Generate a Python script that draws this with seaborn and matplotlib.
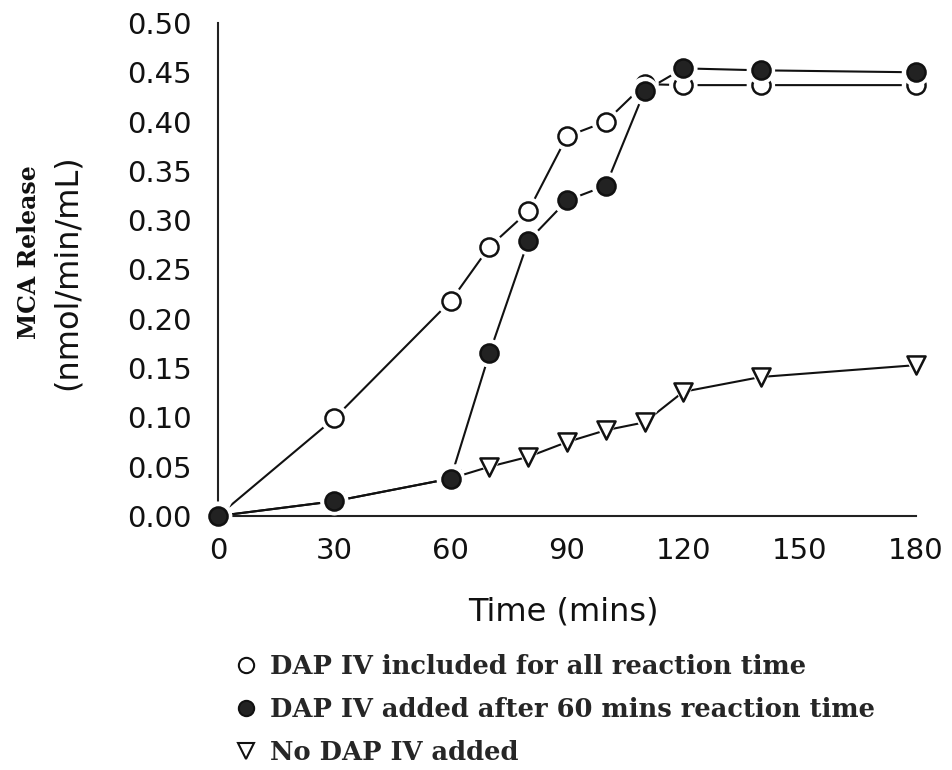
import matplotlib
matplotlib.use("Agg")
import matplotlib.pyplot as plt
import seaborn as sns
import pandas as pd
from matplotlib.lines import Line2D

# ---- data ----
time = [0, 30, 60, 70, 80, 90, 100, 110, 120, 140, 180]
dap_all = [0.0, 0.099, 0.218, 0.273, 0.309, 0.385, 0.400, 0.438, 0.437, 0.437, 0.437]
dap_after60 = [0.0, 0.015, 0.038, 0.165, 0.279, 0.320, 0.335, 0.431, 0.454, 0.452, 0.450]
no_dap = [0.0, 0.015, 0.038, 0.050, 0.060, 0.075, 0.087, 0.095, 0.126, 0.141, 0.153]

series_labels = ["DAP IV included for all reaction time",
                 "DAP IV added after 60 mins reaction time",
                 "No DAP IV added"]
x_ticks = [0, 30, 60, 90, 120, 150, 180]
y_ticks = [0.00, 0.05, 0.10, 0.15, 0.20, 0.25, 0.30, 0.35, 0.40, 0.45, 0.50]

df = pd.DataFrame({
    "time": time * 3,
    "value": dap_all + dap_after60 + no_dap,
    "series": [series_labels[0]] * len(time) + [series_labels[1]] * len(time) + [series_labels[2]] * len(time),
})

sns.set_theme(style="white")
plt.rcParams["font.family"] = ["DejaVu Sans"]

fig = plt.figure(figsize=(9.52, 7.70), dpi=100)
ax = fig.add_axes([218 / 952, 1 - 516 / 770, (916 - 218) / 952, (516 - 23) / 770])

# lines
for lab in series_labels:
    sub = df[df.series == lab]
    sns.lineplot(data=sub, x="time", y="value", ax=ax, color="#111111", lw=1.5,
                 legend=False, estimator=None, sort=False, clip_on=False, zorder=2)

style = {
    series_labels[2]: dict(marker="v", face="white"),
    series_labels[0]: dict(marker="o", face="white"),
    series_labels[1]: dict(marker="o", face="#222222"),
}
z = 3
for lab in [series_labels[2], series_labels[0], series_labels[1]]:
    sub = df[df.series == lab]
    st = style[lab]
    # white halo creates gap between line and marker
    sns.scatterplot(data=sub, x="time", y="value", ax=ax, marker=st["marker"], s=420,
                    color="white", edgecolor="none", linewidth=0, legend=False,
                    clip_on=False, zorder=z)
    sns.scatterplot(data=sub, x="time", y="value", ax=ax, marker=st["marker"], s=170,
                    color=st["face"], edgecolor="#111111", linewidth=1.8, legend=False,
                    clip_on=False, zorder=z + 1)
    z += 2

ax.set_xlim(0, 180)
ax.set_ylim(0, 0.5)
ax.set_xticks(x_ticks)
ax.set_yticks(y_ticks)
ax.set_xticklabels([str(t) for t in x_ticks])
ax.set_yticklabels([f"{v:.2f}" for v in y_ticks])
ax.tick_params(axis="both", direction="in", length=10, width=1.4, color="#222222",
               labelsize=21, labelcolor="#111111")
ax.tick_params(axis="y", pad=19)
ax.tick_params(axis="x", pad=15)
ax.set_xlabel("")
ax.set_ylabel("")
for s in ["top", "right"]:
    ax.spines[s].set_visible(False)
for s in ["left", "bottom"]:
    ax.spines[s].set_linewidth(1.5)
    ax.spines[s].set_color("#222222")

# axis titles
fig.text(563 / 952, 1 - 612 / 770, "Time (mins)", ha="center", va="center",
         fontsize=23, color="#111111")
fig.text(29 / 952, 1 - 252 / 770, "MCA Release", rotation=90, ha="center", va="center",
         fontsize=17, fontweight="bold", family=["DejaVu Serif"], color="#111111")
fig.text(67 / 952, 1 - 272 / 770, "(nmol/min/mL)", rotation=90, ha="center", va="center",
         fontsize=23, color="#111111")

# legend
handles = [
    Line2D([], [], linestyle="none", marker="o", markersize=11, markerfacecolor="white",
           markeredgecolor="#111111", markeredgewidth=1.5),
    Line2D([], [], linestyle="none", marker="o", markersize=11, markerfacecolor="#222222",
           markeredgecolor="#111111", markeredgewidth=1.5),
    Line2D([], [], linestyle="none", marker="v", markersize=11, markerfacecolor="white",
           markeredgecolor="#111111", markeredgewidth=1.5),
]
leg = fig.legend(handles, series_labels, loc="upper left",
                 bbox_to_anchor=(224 / 952, 1 - 641 / 770), frameon=False,
                 prop={"family": "DejaVu Serif", "weight": "bold", "size": 18.5},
                 handlelength=0.7, handletextpad=0.6, labelspacing=0.7, borderpad=0)

fig.savefig("out.png", dpi=100, facecolor="white")
